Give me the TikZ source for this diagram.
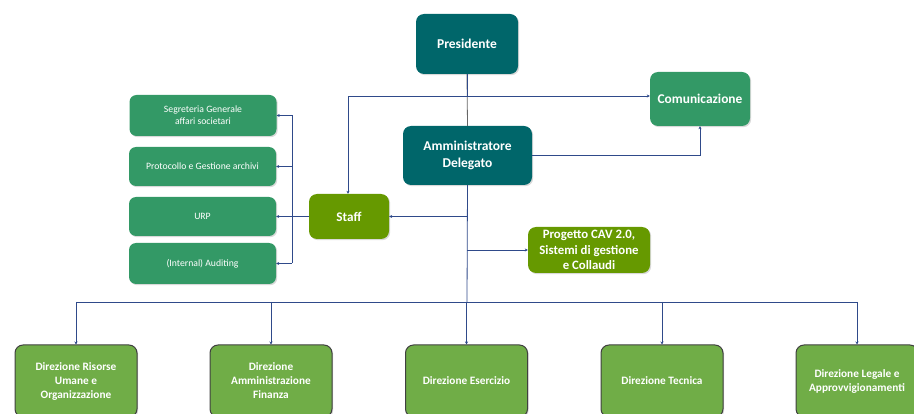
\documentclass[tikz,border=0pt]{standalone}
\usepackage{fontspec}
\setmainfont{Carlito}
\usetikzlibrary{shadows,arrows.meta}
\definecolor{teal}{HTML}{00666A}
\definecolor{midgreen}{HTML}{339966}
\definecolor{olive}{HTML}{669900}
\definecolor{lgreen}{HTML}{70AD47}
\definecolor{lineblue}{HTML}{2F4A8A}
\tikzset{
  box/.style={rounded corners=8pt, text=white, align=center, inner sep=2pt,
    drop shadow={opacity=0.3, shadow xshift=1.2pt, shadow yshift=-1.2pt}},
  topbox/.style={box, fill=teal, font=\bfseries\fontsize{13.5}{17}\selectfont},
  combox/.style={box, fill=midgreen, font=\bfseries\fontsize{13.4}{17}\selectfont},
  sidebox/.style={box, fill=midgreen, rounded corners=7pt, minimum width=147pt, font=\fontsize{9.7}{12}\selectfont},
  staffbox/.style={box, fill=olive, font=\bfseries\fontsize{13.2}{16}\selectfont},
  cavbox/.style={box, fill=olive, inner sep=0pt, font=\bfseries\fontsize{12.8}{15.5}\selectfont},
  dirbox/.style={box, fill=lgreen, draw={black!75}, line width=1pt, minimum width=122pt, minimum height=72pt, font=\bfseries\fontsize{11.3}{14}\selectfont},
  conn/.style={draw=lineblue, line width=0.8pt},
  arr/.style={conn, -{Stealth[length=3pt,width=3pt]}},
}
\begin{document}
\begin{tikzpicture}[x=1pt,y=-1pt]
\useasboundingbox (0,0) rectangle (914,414);
\clip (0,0) rectangle (914,414);
% nodes
\node[topbox, minimum width=102pt, minimum height=60pt] (pres) at (467,44) {Presidente};
\node[combox, minimum width=100pt, minimum height=54pt] (com) at (700,99) {Comunicazione};
\node[topbox, minimum width=129pt, minimum height=59pt] (amm) at (467.5,155.5) {Amministratore\\Delegato};
\node[sidebox, minimum height=41pt] (seg) at (203,115.5) {Segreteria Generale\\affari societari};
\node[sidebox, minimum height=39pt] (prot) at (202.5,166.5) {Protocollo e Gestione archivi};
\node[sidebox, minimum height=39pt] (urp) at (202.5,216.5) {URP};
\node[sidebox, minimum height=41pt] (aud) at (202.5,263.5) {(Internal) Auditing};
\node[staffbox, minimum width=80pt, minimum height=45pt] (staff) at (349,216.5) {Staff};
\node[cavbox, minimum width=122pt, minimum height=46pt] (cav) at (589,250) {Progetto CAV 2.0,\\Sistemi di gestione\\e Collaudi};
\node[dirbox] (d1) at (76,381) {Direzione Risorse\\Umane e\\Organizzazione};
\node[dirbox] (d2) at (271,381) {Direzione\\Amministrazione\\Finanza};
\node[dirbox] (d3) at (466.5,381) {Direzione Esercizio};
\node[dirbox] (d4) at (662,381) {Direzione Tecnica};
\node[dirbox] (d5) at (857,381) {Direzione Legale e\\Approvvigionamenti};
% coordinates
\coordinate (j1) at (467,96);
\coordinate (s1) at (348,96);
\coordinate (jstaff) at (467,216.5);
\coordinate (jcav) at (467,250);
\coordinate (bus) at (467,302);
\coordinate (busl) at (76,302);
\coordinate (busr) at (858,302);
\coordinate (v) at (292,216.5);
\coordinate (vtop) at (292,115.5);
\coordinate (vbot) at (292,263.5);
% connectors
\draw[conn, draw=black!60] (pres.south) -- (amm.north);
\draw[conn] (pres.south) -- (j1);
\draw[arr] (j1) -- (j1 -| com.west);
\draw[arr] (j1) -- (s1) -- (s1 |- staff.north);
\draw[arr] (amm.east) -- (amm.east -| com.south) -- (com.south);
\draw[conn] (amm.south) -- (bus);
\draw[arr] (jstaff) -- (staff.east);
\draw[arr] (jcav) -- (cav.west);
\draw[conn] (busl) -- (busr);
\foreach \d in {d1,d2,d3,d4,d5}{
  \draw[arr] (\d.north |- bus) -- (\d.north);
}
\draw[conn] (staff.west) -- (v);
\draw[conn] (vtop) -- (vbot);
\draw[arr] (vtop) -- (vtop -| seg.east);
\draw[arr] (prot.east -| v) -- (prot.east);
\draw[arr] (v) -- (urp.east);
\draw[arr] (vbot) -- (vbot -| aud.east);
\end{tikzpicture}
\end{document}
